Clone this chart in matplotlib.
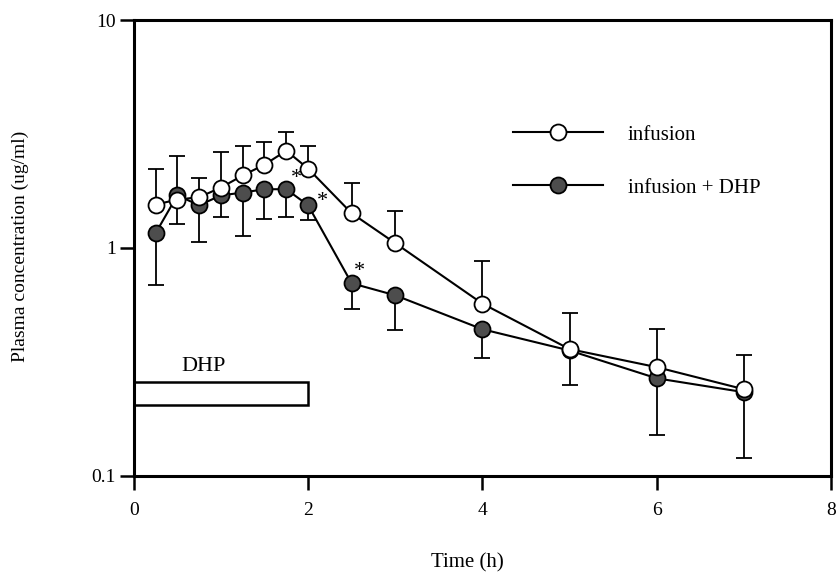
import matplotlib
matplotlib.use("Agg")
import matplotlib.pyplot as plt
from matplotlib.patches import Rectangle

plt.rcParams['font.family'] = ['Liberation Serif', 'DejaVu Serif']

# time points (h)
time = [0.25, 0.5, 0.75, 1.0, 1.25, 1.5, 1.75, 2.0, 2.5, 3.0, 4.0, 5.0, 6.0, 7.0]

# infusion alone (ug/ml) and its error bars
infusion = [1.55, 1.63, 1.67, 1.84, 2.08, 2.32, 2.67, 2.23, 1.42, 1.05, 0.57, 0.36, 0.30, 0.24]
infusion_up = [0.68, 0.0, 0.35, 0.80, 0.73, 0.61, 0.56, 0.58, 0.50, 0.40, 0.31, 0.16, 0.14, 0.10]
infusion_dn = [0.0, 0.36, 0.0, 0.0, 0.0, 0.0, 0.0, 0.0, 0.0, 0.0, 0.0, 0.0, 0.0, 0.0]

# infusion + DHP (ug/ml) and its error bars
dhp = [1.16, 1.70, 1.54, 1.70, 1.75, 1.81, 1.81, 1.54, 0.70, 0.62, 0.44, 0.355, 0.268, 0.233]
dhp_up = [0.0, 0.82, 0.0, 0.0, 0.0, 0.0, 0.0, 0.0, 0.0, 0.0, 0.0, 0.0, 0.0, 0.0]
dhp_dn = [0.47, 0.0, 0.48, 0.335, 0.62, 0.47, 0.445, 0.22, 0.16, 0.185, 0.11, 0.105, 0.117, 0.113]

# significance marks (x, y)
star_x = [1.87, 2.16, 2.59]
star_y = [2.01, 1.60, 0.785]

# DHP administration period
dhp_start, dhp_end = 0.0, 2.0
dhp_box_lo, dhp_box_hi = 0.205, 0.258

fig = plt.figure(figsize=(8.36, 5.72), dpi=100)
ax = fig.add_axes([0.160, 0.168, 0.834, 0.797])

ax.errorbar(time, infusion, yerr=[infusion_dn, infusion_up], fmt='none',
            ecolor='black', elinewidth=1.3, capsize=6, capthick=1.3, zorder=1)
ax.errorbar(time, dhp, yerr=[dhp_dn, dhp_up], fmt='none',
            ecolor='black', elinewidth=1.3, capsize=6, capthick=1.3, zorder=1)

ax.plot(time, dhp, '-o', color='black', lw=1.5, ms=11.5,
        mfc='#4d4d4d', mec='black', mew=1.3, zorder=3, label='infusion + DHP')
ax.plot(time, infusion, '-o', color='black', lw=1.5, ms=11.5,
        mfc='white', mec='black', mew=1.3, zorder=4, label='infusion')

for sx, sy in zip(star_x, star_y):
    ax.text(sx, sy, '*', fontsize=16, ha='center', va='center', zorder=5)

ax.add_patch(Rectangle((dhp_start, dhp_box_lo), dhp_end - dhp_start,
                       dhp_box_hi - dhp_box_lo, facecolor='white',
                       edgecolor='black', lw=1.8, zorder=2, clip_on=False))
ax.text((dhp_start + dhp_end) / 2 - 0.2, dhp_box_hi * 1.06, 'DHP',
        fontsize=16, ha='center', va='bottom')

ax.set_yscale('log')
ax.set_ylim(0.1, 10)
ax.set_xlim(0, 8)
ax.set_yticks([0.1, 1, 10])
ax.set_yticklabels(['0.1', '1', '10'])
ax.minorticks_off()
ax.set_xticks([0, 2, 4, 6, 8])
ax.tick_params(axis='both', direction='out', length=10, width=1.8, labelsize=14)
ax.tick_params(axis='x', pad=9)
ax.tick_params(axis='y', pad=3)

for s in ax.spines.values():
    s.set_linewidth(2.2)

ax.set_xlabel('Time (h)', fontsize=15)
ax.set_ylabel('Plasma concentration (ug/ml)', fontsize=14)
ax.xaxis.set_label_coords(0.478, -0.170)
ax.yaxis.set_label_coords(-0.150, 0.504)

handles, labels = ax.get_legend_handles_labels()
ax.legend(handles[::-1], labels[::-1], loc='center left',
          bbox_to_anchor=(0.544, 0.690), frameon=False, fontsize=15,
          handlelength=4.3, handletextpad=1.2, labelspacing=1.6,
          borderpad=0, borderaxespad=0)

plt.savefig('out.png', dpi=100)
